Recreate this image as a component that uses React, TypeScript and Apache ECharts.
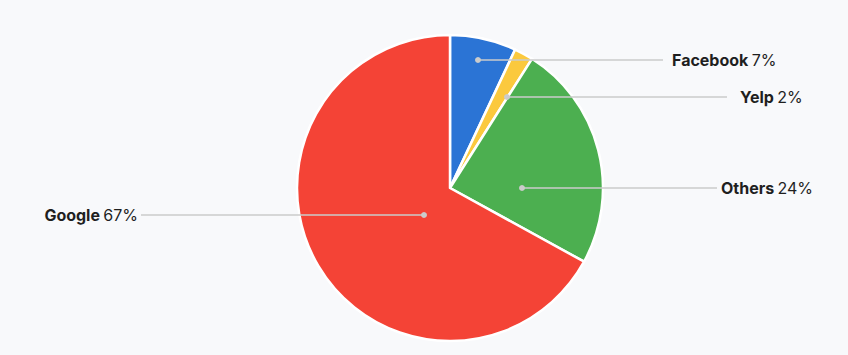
import React, { useEffect, useRef } from "react";
import * as echarts from "echarts";

const categories = ["Facebook", "Yelp", "Others", "Google"];
const shares = [7, 2, 24, 67];
const colors = ["#2b74d5", "#fbc93e", "#4caf50", "#f44336"];

// geometry of the pie (pixels)
const CX = 450;
const CY = 188;
const R = 153;

// label placement for each slice, relative to the pie centre
const labelLayouts = [
  { side: "right", dy: -128, dotDx: 28, lineEndDx: 213, textDx: 222 },
  { side: "right", dy: -91, dotDx: 57, lineEndDx: 277, textDx: 290 },
  { side: "right", dy: 0, dotDx: 72, lineEndDx: 267, textDx: 271 },
  { side: "left", dy: 27, dotDx: -26, lineEndDx: -309, textDx: -312 },
];

const GUIDE_COLOR = "#cbcbcb";

export default function App() {
  const ref = useRef<HTMLDivElement>(null);
  useEffect(() => {
    document.body.style.margin = "0";
    if (!ref.current) return;
    const chart = echarts.init(ref.current, undefined, { renderer: "svg" });
    const data = categories.map((name, i) => ({
      name,
      value: shares[i],
      itemStyle: { color: colors[i] },
    }));
    const guides: any[] = [];
    labelLayouts.forEach((L) => {
      const y = CY + L.dy;
      guides.push({
        type: "line",
        shape: { x1: CX + L.dotDx, y1: y, x2: CX + L.lineEndDx, y2: y },
        style: { stroke: GUIDE_COLOR, lineWidth: 1.5 },
        z: 100,
        silent: true,
      });
      guides.push({
        type: "circle",
        shape: { cx: CX + L.dotDx, cy: y, r: 3 },
        style: { fill: GUIDE_COLOR },
        z: 101,
        silent: true,
      });
    });
    chart.setOption({
      animation: false,
      backgroundColor: "#f8f9fb",
      graphic: guides,
      series: [
        {
          type: "pie",
          center: [CX, CY],
          radius: R,
          startAngle: 90,
          clockwise: true,
          data,
          itemStyle: { borderColor: "#ffffff", borderWidth: 2.5 },
          label: {
            show: true,
            position: "outside",
            formatter: (p: any) => `{b|${p.name}} {c|${p.value}%}`,
            rich: {
              b: {
                fontFamily: "Inter",
                fontWeight: "bold",
                fontSize: 16,
                color: "#1f1f1f",
              },
              c: {
                fontFamily: "Inter",
                fontSize: 16,
                color: "#1f1f1f",
              },
            },
          },
          labelLine: { show: false },
          labelLayout: (params: any) => {
            const L = labelLayouts[params.dataIndex];
            return {
              x: CX + L.textDx,
              y: CY + L.dy,
              align: L.side === "right" ? "left" : "right",
              verticalAlign: "middle",
            };
          },
          emphasis: { disabled: true },
        },
      ],
    });
    return () => chart.dispose();
  }, []);
  return <div ref={ref} style={{ width: 848, height: 355 }} />;
}
